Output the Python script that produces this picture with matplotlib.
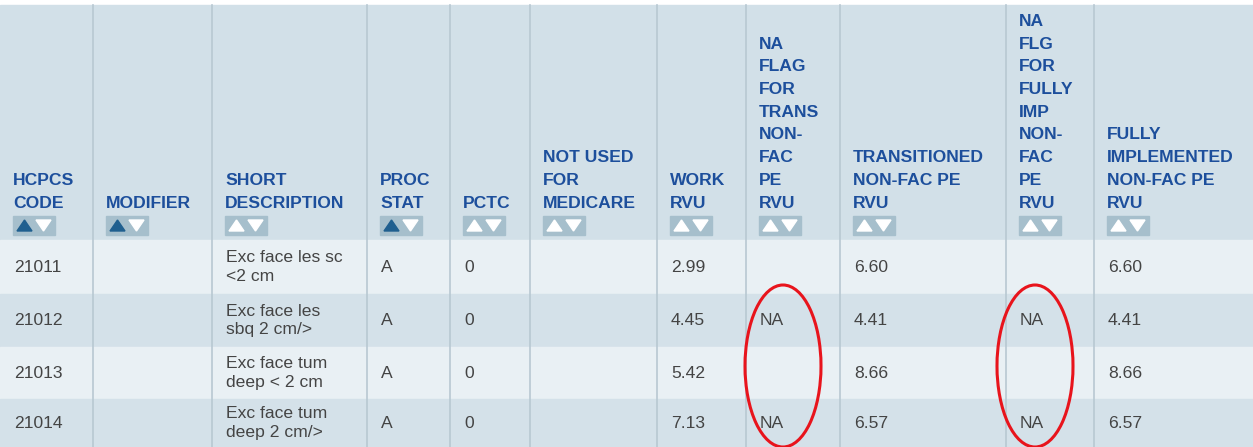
import matplotlib
matplotlib.use("Agg")
import matplotlib.pyplot as plt
from matplotlib.patches import Rectangle, Ellipse, Polygon

headers = ["HCPCS\nCODE", "MODIFIER", "SHORT\nDESCRIPTION", "PROC\nSTAT", "PCTC",
           "NOT USED\nFOR\nMEDICARE", "WORK\nRVU", "NA\nFLAG\nFOR\nTRANS\nNON-\nFAC\nPE\nRVU",
           "TRANSITIONED\nNON-FAC PE\nRVU", "NA\nFLG\nFOR\nFULLY\nIMP\nNON-\nFAC\nPE\nRVU",
           "FULLY\nIMPLEMENTED\nNON-FAC PE\nRVU"]
sort_active = [True, True, False, True, False, False, False, False, False, False, False]
codes = ["21011", "21012", "21013", "21014"]
modifiers = ["", "", "", ""]
descriptions = ["Exc face les sc\n<2 cm", "Exc face les\nsbq 2 cm/>", "Exc face tum\ndeep < 2 cm", "Exc face tum\ndeep 2 cm/>"]
proc_stat = ["A", "A", "A", "A"]
pctc = ["0", "0", "0", "0"]
not_used = ["", "", "", ""]
work_rvu = ["2.99", "4.45", "5.42", "7.13"]
na_trans = ["", "NA", "", "NA"]
trans_pe = ["6.60", "4.41", "8.66", "6.57"]
na_full = ["", "NA", "", "NA"]
full_pe = ["6.60", "4.41", "8.66", "6.57"]

cols = [codes, modifiers, descriptions, proc_stat, pctc, not_used, work_rvu, na_trans, trans_pe, na_full, full_pe]
xb = [0, 93, 212, 367, 450, 530, 657, 746, 840, 1006, 1094, 1253]
rows_y = [240, 294, 347, 399, 447]
W, H = 1253, 447

fig = plt.figure(figsize=(W/100, H/100), dpi=100)
ax = fig.add_axes([0, 0, 1, 1])
ax.set_xlim(0, W); ax.set_ylim(H, 0); ax.axis("off")
fig.patch.set_facecolor("white")

hdr_bg = "#d2e0e8"; light = "#e9f0f4"; dark = "#d4e1e9"
ax.add_patch(Rectangle((0, 5), W, 235, color=hdr_bg, zorder=0))
for r in range(4):
    ax.add_patch(Rectangle((0, rows_y[r]), W, rows_y[r+1]-rows_y[r],
                           color=light if r % 2 == 0 else dark, zorder=0))
for x in xb[1:-1]:
    ax.plot([x, x], [5, H], color="#b8c8d2", lw=1.2, zorder=1)

font = "Liberation Sans"
for i, h in enumerate(headers):
    x0 = xb[i] + 13
    lines = h.split("\n")
    for k, line in enumerate(reversed(lines)):
        ax.text(x0, 203 - 22.7*k, line, fontsize=12.6, fontweight="bold", color="#1d4f9c",
                family=font, va="center", ha="left")
    bx, by = x0, 216
    ax.add_patch(Rectangle((bx, by), 42, 19, color="#a6bfcc", zorder=2))
    up = "#1f5f8f" if sort_active[i] else "white"
    ax.add_patch(Polygon([(bx+4, by+15), (bx+19, by+15), (bx+11.5, by+4)], color=up, zorder=3))
    ax.add_patch(Polygon([(bx+23, by+4), (bx+38, by+4), (bx+30.5, by+15)], color="white", zorder=3))

for i, col in enumerate(cols):
    for r, v in enumerate(col):
        if v:
            yc = (rows_y[r] + rows_y[r+1]) / 2
            ax.text(xb[i] + 14, yc, v, fontsize=12.6, color="#444444", family=font,
                    va="center", ha="left", linespacing=1.3)

for cx in (783, 1035):
    ax.add_patch(Ellipse((cx, 366), 76, 162, fill=False, ec="#e8141c", lw=2.2, zorder=4))

fig.savefig("out.png", dpi=100)
